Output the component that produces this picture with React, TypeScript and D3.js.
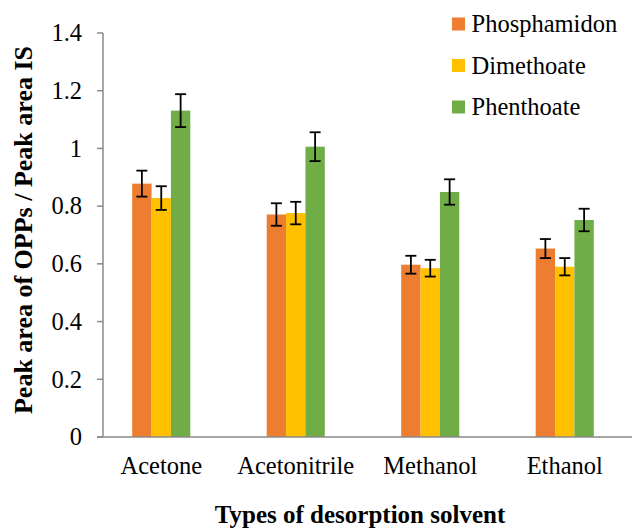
import React, { useEffect, useRef } from "react";
import * as d3 from "d3";

const solvents = ["Acetone", "Acetonitrile", "Methanol", "Ethanol"];
const seriesNames = ["Phosphamidon", "Dimethoate", "Phenthoate"];
const phosphamidon = [0.878, 0.771, 0.597, 0.653];
const phosphamidonErr = [0.045, 0.039, 0.031, 0.033];
const dimethoate = [0.828, 0.776, 0.585, 0.59];
const dimethoateErr = [0.041, 0.039, 0.029, 0.03];
const phenthoate = [1.131, 1.006, 0.849, 0.752];
const phenthoateErr = [0.057, 0.05, 0.044, 0.039];
const yTicks = [0, 0.2, 0.4, 0.6, 0.8, 1, 1.2, 1.4];
const colors = ["#ED7D31", "#FFC000", "#70AD47"];

const font = "Liberation Serif";

const App = () => {
  const svgRef = useRef<SVGSVGElement>(null);

  useEffect(() => {
    const W = 632;
    const H = 530;
    const svg = d3.select(svgRef.current);
    svg.selectAll("*").remove();
    svg.attr("width", W).attr("height", H);

    const values = [phosphamidon, dimethoate, phenthoate];
    const errors = [phosphamidonErr, dimethoateErr, phenthoateErr];

    const axisX = 103;
    const x = d3.scaleBand().domain(solvents).range([94, 632]);
    const groupW = x.bandwidth() * 0.432;
    const xs = d3.scaleBand().domain(seriesNames).range([0, groupW]);
    const y = d3.scaleLinear().domain([0, 1.4]).range([437, 33]);

    const axisColor = "#8a8a8a";

    // y axis
    svg.append("line")
      .attr("x1", axisX).attr("x2", axisX)
      .attr("y1", y(1.4)).attr("y2", y(0))
      .attr("stroke", axisColor).attr("stroke-width", 1.5);
    const yt = svg.append("g").selectAll("g").data(yTicks).enter().append("g");
    yt.append("line")
      .attr("x1", axisX - 6).attr("x2", axisX)
      .attr("y1", (d) => y(d)).attr("y2", (d) => y(d))
      .attr("stroke", axisColor).attr("stroke-width", 1.5);
    yt.append("text")
      .attr("x", 82).attr("y", (d) => y(d))
      .attr("dy", "0.34em")
      .attr("text-anchor", "end")
      .attr("font-family", font)
      .attr("font-size", 24.5).attr("fill", "#000")
      .text((d) => String(d));

    // bars
    const groups = svg.append("g").selectAll("g").data(solvents).enter().append("g")
      .attr("transform", (d) => `translate(${x(d)! + (x.bandwidth() - groupW) / 2},0)`);

    seriesNames.forEach((s, si) => {
      groups.append("rect")
        .attr("x", xs(s)!)
        .attr("width", xs.bandwidth())
        .attr("y", (_d, i) => y(values[si][i]))
        .attr("height", (_d, i) => y(0) - y(values[si][i]))
        .attr("fill", colors[si]);
    });

    // error bars
    seriesNames.forEach((s, si) => {
      const cx = xs(s)! + xs.bandwidth() / 2;
      const eb = groups.append("g").attr("stroke", "#000").attr("stroke-width", 1.8);
      eb.append("line")
        .attr("x1", cx).attr("x2", cx)
        .attr("y1", (_d, i) => y(values[si][i] + errors[si][i]))
        .attr("y2", (_d, i) => y(values[si][i] - errors[si][i]));
      eb.append("line")
        .attr("x1", cx - 5.5).attr("x2", cx + 5.5)
        .attr("y1", (_d, i) => y(values[si][i] + errors[si][i]))
        .attr("y2", (_d, i) => y(values[si][i] + errors[si][i]));
      eb.append("line")
        .attr("x1", cx - 5.5).attr("x2", cx + 5.5)
        .attr("y1", (_d, i) => y(values[si][i] - errors[si][i]))
        .attr("y2", (_d, i) => y(values[si][i] - errors[si][i]));
    });

    // x axis
    svg.append("line")
      .attr("x1", 97).attr("x2", 632)
      .attr("y1", y(0)).attr("y2", y(0))
      .attr("stroke", axisColor).attr("stroke-width", 1.5);
    svg.append("g").selectAll("text").data(solvents).enter().append("text")
      .attr("x", (d) => x(d)! + x.bandwidth() / 2)
      .attr("y", 474)
      .attr("text-anchor", "middle")
      .attr("font-family", font)
      .attr("font-size", 24.5).attr("fill", "#000")
      .text((d) => d);

    // axis titles
    svg.append("text")
      .attr("x", 360).attr("y", 523)
      .attr("text-anchor", "middle")
      .attr("font-family", font)
      .attr("font-size", 25).attr("font-weight", "bold")
      .text("Types of desorption solvent");
    svg.append("text")
      .attr("transform", "translate(32,230) rotate(-90)")
      .attr("text-anchor", "middle")
      .attr("font-family", font)
      .attr("font-size", 26).attr("font-weight", "bold")
      .text("Peak area of OPPs / Peak area IS");

    // legend
    const lg = svg.append("g").selectAll("g").data(seriesNames).enter().append("g")
      .attr("transform", (_d, i) => `translate(452,${24 + i * 41.5})`);
    lg.append("rect")
      .attr("x", 0).attr("y", -6.5).attr("width", 13).attr("height", 13)
      .attr("fill", (_d, i) => colors[i]);
    lg.append("text")
      .attr("x", 19.5).attr("y", 0).attr("dy", "0.33em")
      .attr("font-family", font)
      .attr("font-size", 24.5).attr("fill", "#000")
      .text((d) => d);
  }, []);

  return (
    <svg ref={svgRef} style={{ position: "absolute", left: 0, top: 0, background: "#fff" }}></svg>
  );
};

export default App;
